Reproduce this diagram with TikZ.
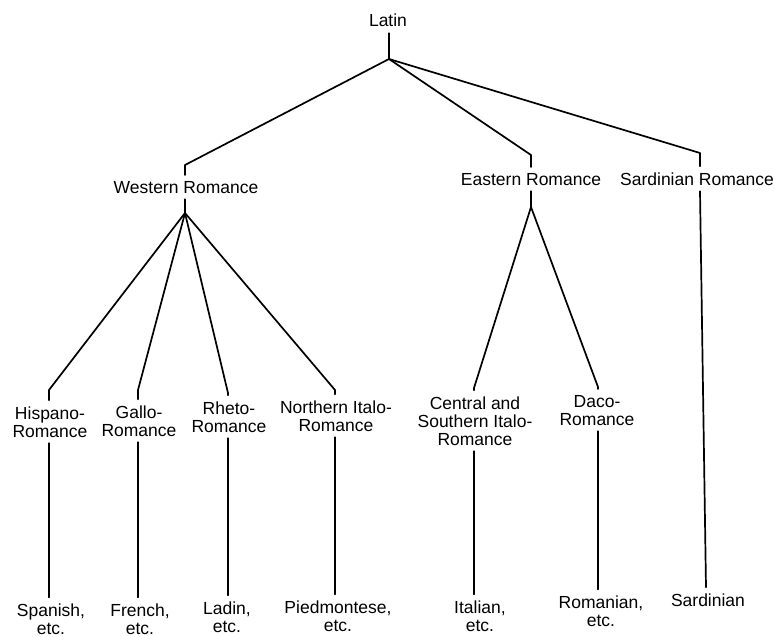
\documentclass[tikz,border=0pt]{standalone}
\usepackage{fontspec}
\setmainfont{Liberation Sans}
\begin{document}
\begin{tikzpicture}[x=1pt,y=-1pt,
  lbl/.style={font=\fontsize{17.5}{18}\selectfont, align=center, anchor=base,
              inner sep=0pt, outer xsep=0pt, outer ysep=6pt},
  edge/.style={line width=1.7pt, line join=round, line cap=round}]
\clip (0,0) rectangle (782,637);
\fill[white] (0,0) rectangle (782,637);
% nodes (anchor = baseline of the last line)
\node[lbl] (latin) at (388,27) {Latin};
\node[lbl] (wr) at (186,193) {Western Romance};
\node[lbl] (er) at (531,185) {Eastern Romance};
\node[lbl] (sr) at (697,185) {Sardinian Romance};
\node[lbl] (hr) at (50,437) {Hispano-\\Romance};
\node[lbl] (gr) at (139,436) {Gallo-\\Romance};
\node[lbl] (rr) at (229,432) {Rheto-\\Romance};
\node[lbl] (nr) at (336,431) {Northern Italo-\\Romance};
\node[lbl] (cr) at (475,445) {Central and\\Southern Italo-\\Romance};
\node[lbl] (dr) at (597,425) {Daco-\\Romance};
\node[lbl] (sp) at (51,634) {Spanish,\\etc.};
\node[lbl] (fr) at (140,634) {French,\\etc.};
\node[lbl] (la) at (227,632) {Ladin,\\etc.};
\node[lbl] (pi) at (338,631) {Piedmontese,\\etc.};
\node[lbl] (it) at (480,631) {Italian,\\etc.};
\node[lbl] (ro) at (601,626) {Romanian,\\etc.};
\node[lbl] (sa) at (708,606) {Sardinian};
% junctions and tick tops
\coordinate (j0) at (389,59);
\coordinate (wT) at (185,165);
\coordinate (wJ) at (185,213);
\coordinate (eT) at (531,155);
\coordinate (eJ) at (531,207);
\coordinate (sT) at (700,153);
\coordinate (sB) at (706,0);
\coordinate (hT) at (49,390);
\coordinate (gT) at (138,390);
\coordinate (rT) at (228,393);
\coordinate (nT) at (335,390);
\coordinate (cT) at (474,388);
\coordinate (dT) at (598,387);
% connectors
\draw[edge] (j0 |- latin.south) -- (j0);
\draw[edge] (j0) -- (wT) -- (wT |- wr.north);
\draw[edge] (j0) -- (eT) -- (eT |- er.north);
\draw[edge] (j0) -- (sT) -- (sT |- sr.north);
\draw[edge] (wJ |- wr.south) -- (wJ);
\foreach \t/\n in {hT/hr, gT/gr, rT/rr, nT/nr}
  \draw[edge] (wJ) -- (\t) -- (\t |- \n.north);
\draw[edge] (eJ |- er.south) -- (eJ);
\foreach \t/\n in {cT/cr, dT/dr}
  \draw[edge] (eJ) -- (\t) -- (\t |- \n.north);
\foreach \t/\a/\b in {hT/hr/sp, gT/gr/fr, rT/rr/la, nT/nr/pi, cT/cr/it, dT/dr/ro}
  \draw[edge] (\t |- \a.south) -- (\t |- \b.north);
\draw[edge] (sT |- sr.south) -- (sB |- sa.north);
\end{tikzpicture}
\end{document}
